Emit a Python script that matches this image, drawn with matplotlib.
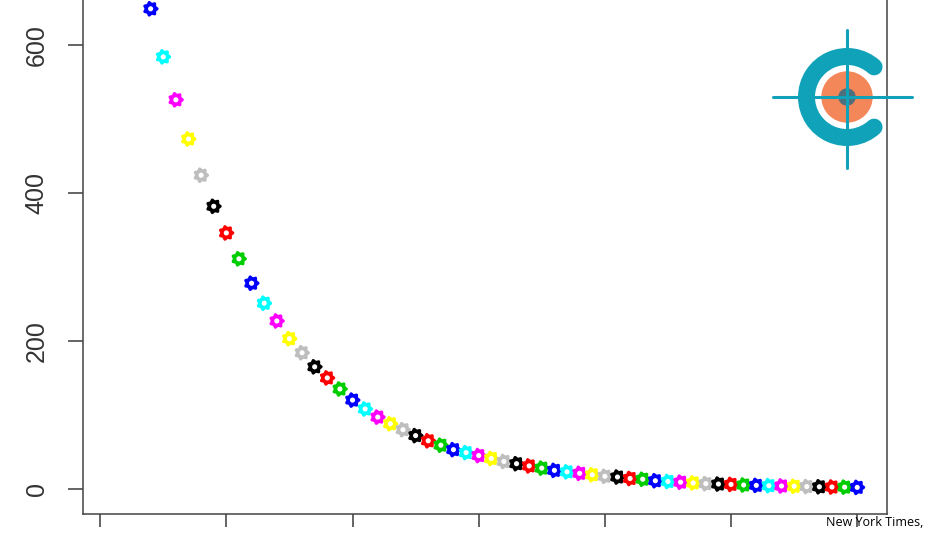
import numpy as np
import matplotlib
matplotlib.use("Agg")
import matplotlib.pyplot as plt
from matplotlib.path import Path
from matplotlib.patches import Circle, Arc

# data (x = index, y = value)
x_vals = list(range(1, 61))
y_vals = [900, 810, 729, 649, 584, 526, 473, 424, 382, 346,
          311, 278, 251, 227, 203, 184, 165, 150, 135, 120,
          108, 97, 88, 80, 72, 65, 59, 53, 49, 45,
          41, 37, 34, 31, 28, 25, 23, 21, 19, 17,
          16, 14, 13, 11, 10, 9, 8, 7, 6.5, 6,
          5.2, 4.7, 4.3, 3.9, 3.5, 3.1, 2.8, 2.5, 2.3, 2.0]
r_palette = ["#000000", "#FF0000", "#00CD00", "#0000FF",
             "#00FFFF", "#FF00FF", "#FFFF00", "#BEBEBE"]
x_ticks = [0, 10, 20, 30, 40, 50, 60]
y_ticks = [0, 200, 400, 600]
y_ticklabels = ["0", "200", "400", "600"]
credit = "New York Times,"

colors = [r_palette[(i - 1) % len(r_palette)] for i in x_vals]

# gear-like marker: toothed outline with a hole
t = np.linspace(0, 2 * np.pi, 97)
r = 0.89 + 0.11 * np.cos(7 * t)
outer = np.column_stack([r * np.cos(t), r * np.sin(t)])
hole = np.column_stack([0.32 * np.cos(-t), 0.32 * np.sin(-t)])
verts = np.vstack([outer, hole])
codes = ([Path.MOVETO] + [Path.LINETO] * (len(outer) - 2) + [Path.CLOSEPOLY]
         + [Path.MOVETO] + [Path.LINETO] * (len(hole) - 2) + [Path.CLOSEPOLY])
gear = Path(verts, codes)

fig = plt.figure(figsize=(9.4, 5.4), dpi=100)
# axes box runs above the top of the picture (cropped R plot)
ax = fig.add_axes([83 / 940, 26 / 540, 804 / 940, 716 / 540])
ax.scatter(x_vals, y_vals, c=colors, marker=gear, s=11.5 ** 2, linewidths=0, zorder=3)

ax.set_xlim(-1.36, 62.36)
ax.set_ylim(-34, 934)
ax.set_xticks(x_ticks)
ax.set_yticks(y_ticks)
ax.set_yticklabels(y_ticklabels, rotation=90, va="center",
                   fontfamily="Liberation Sans", fontsize=18, color="#333333")
ax.tick_params(axis="x", length=9.5, width=1.1, color="#3a3a3a", labelbottom=False)
ax.tick_params(axis="y", length=10.8, width=1.1, color="#3a3a3a", pad=14)
for s in ax.spines.values():
    s.set_color("#444444")
    s.set_linewidth(1.1)

# logo drawn in pixel coordinates
lg = fig.add_axes([0, 0, 1, 1])
lg.set_xlim(0, 940)
lg.set_ylim(540, 0)
lg.axis("off")
lg.patch.set_visible(False)
cx, cy = 847, 97
teal = "#0FA2B8"
lg.add_patch(Circle((cx, cy), 25, color="#F4875A", zorder=1))
lg.add_patch(Arc((cx, cy), 81, 81, theta1=48, theta2=312, color=teal,
                 lw=12.2, capstyle="round", zorder=2))
lg.add_patch(Circle((cx, cy), 8, color="#4D6F7D", zorder=3))
lg.plot([773, 912], [cy, cy], color=teal, lw=2.2, solid_capstyle="round", zorder=4)
lg.plot([cx, cx], [30, 168], color=teal, lw=2.2, solid_capstyle="round", zorder=4)

fig.text(826 / 940, 1 - 523 / 540, credit, fontsize=9, fontfamily="Open Sans",
         va="center", ha="left", color="black")

fig.savefig("out.png", dpi=100)
